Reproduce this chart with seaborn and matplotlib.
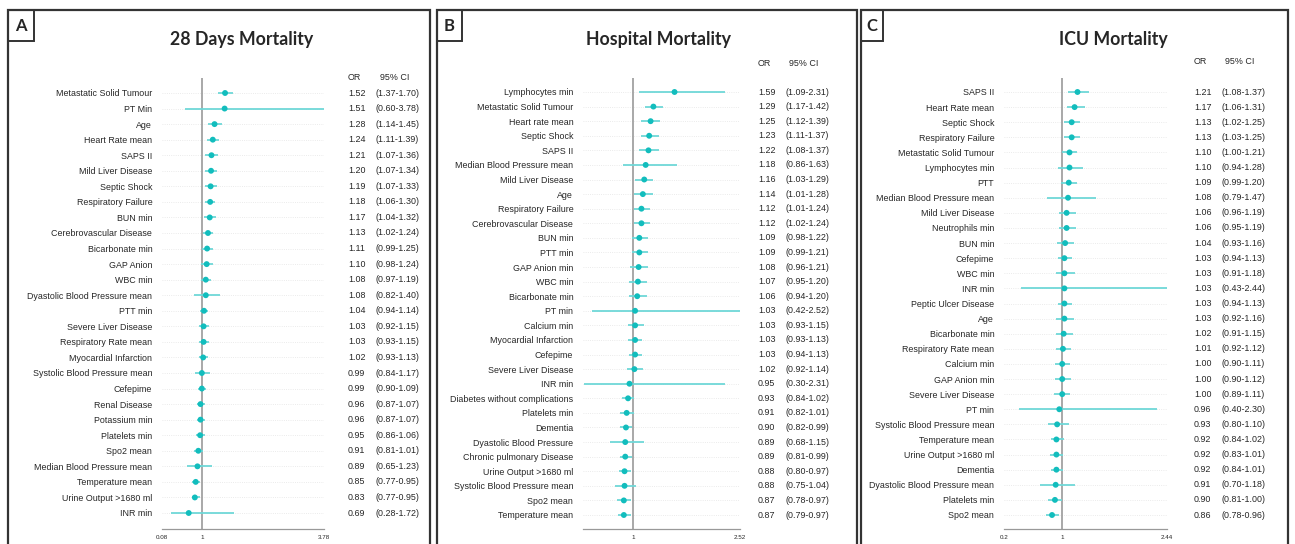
import numpy as np
import pandas as pd
import matplotlib
matplotlib.use('Agg')
import matplotlib.pyplot as plt
import seaborn as sns
from matplotlib.patches import Rectangle

# ---- data: 28 days mortality
labels_a = ['Metastatic Solid Tumour', 'PT Min', 'Age', 'Heart Rate mean', 'SAPS II',
            'Mild Liver Disease', 'Septic Shock', 'Respiratory Failure', 'BUN min',
            'Cerebrovascular Disease', 'Bicarbonate min', 'GAP Anion', 'WBC min',
            'Dyastolic Blood Pressure mean', 'PTT min', 'Severe Liver Disease',
            'Respiratory Rate mean', 'Myocardial Infarction', 'Systolic Blood Pressure mean',
            'Cefepime', 'Renal Disease', 'Potassium min', 'Platelets min', 'Spo2 mean',
            'Median Blood Pressure mean', 'Temperature mean', 'Urine Output >1680 ml', 'INR min']
or_a = [1.52, 1.51, 1.28, 1.24, 1.21, 1.20, 1.19, 1.18, 1.17, 1.13, 1.11, 1.10, 1.08, 1.08,
        1.04, 1.03, 1.03, 1.02, 0.99, 0.99, 0.96, 0.96, 0.95, 0.91, 0.89, 0.85, 0.83, 0.69]
lo_a = [1.37, 0.60, 1.14, 1.11, 1.07, 1.07, 1.07, 1.06, 1.04, 1.02, 0.99, 0.98, 0.97, 0.82,
        0.94, 0.92, 0.93, 0.93, 0.84, 0.90, 0.87, 0.87, 0.86, 0.81, 0.65, 0.77, 0.77, 0.28]
hi_a = [1.70, 3.78, 1.45, 1.39, 1.36, 1.34, 1.33, 1.30, 1.32, 1.24, 1.25, 1.24, 1.19, 1.40,
        1.14, 1.15, 1.15, 1.13, 1.17, 1.09, 1.07, 1.07, 1.06, 1.01, 1.23, 0.95, 0.95, 1.72]

# ---- data: hospital mortality
labels_b = ['Lymphocytes min', 'Metastatic Solid Tumour', 'Heart rate mean', 'Septic Shock',
            'SAPS II', 'Median Blood Pressure mean', 'Mild Liver Disease', 'Age',
            'Respiratory Failure', 'Cerebrovascular Disease', 'BUN min', 'PTT min',
            'GAP Anion min', 'WBC min', 'Bicarbonate min', 'PT min', 'Calcium min',
            'Myocardial Infarction', 'Cefepime', 'Severe Liver Disease', 'INR min',
            'Diabetes without complications', 'Platelets min', 'Dementia',
            'Dyastolic Blood Pressure', 'Chronic pulmonary Disease', 'Urine Output >1680 ml',
            'Systolic Blood Pressure mean', 'Spo2 mean', 'Temperature mean']
or_b = [1.59, 1.29, 1.25, 1.23, 1.22, 1.18, 1.16, 1.14, 1.12, 1.12, 1.09, 1.09, 1.08, 1.07,
        1.06, 1.03, 1.03, 1.03, 1.03, 1.02, 0.95, 0.93, 0.91, 0.90, 0.89, 0.89, 0.88, 0.88,
        0.87, 0.87]
lo_b = [1.09, 1.17, 1.12, 1.11, 1.08, 0.86, 1.03, 1.01, 1.01, 1.02, 0.98, 0.99, 0.96, 0.95,
        0.94, 0.42, 0.93, 0.93, 0.94, 0.92, 0.30, 0.84, 0.82, 0.82, 0.68, 0.81, 0.80, 0.75,
        0.78, 0.79]
hi_b = [2.31, 1.42, 1.39, 1.37, 1.37, 1.63, 1.29, 1.28, 1.24, 1.24, 1.22, 1.21, 1.21, 1.20,
        1.20, 2.52, 1.15, 1.13, 1.13, 1.14, 2.31, 1.02, 1.01, 0.99, 1.15, 0.99, 0.97, 1.04,
        0.97, 0.97]

# ---- data: ICU mortality
labels_c = ['SAPS II', 'Heart Rate mean', 'Septic Shock', 'Respiratory Failure',
            'Metastatic Solid Tumour', 'Lymphocytes min', 'PTT', 'Median Blood Pressure mean',
            'Mild Liver Disease', 'Neutrophils min', 'BUN min', 'Cefepime', 'WBC min',
            'INR min', 'Peptic Ulcer Disease', 'Age', 'Bicarbonate min',
            'Respiratory Rate mean', 'Calcium min', 'GAP Anion min', 'Severe Liver Disease',
            'PT min', 'Systolic Blood Pressure mean', 'Temperature mean',
            'Urine Output >1680 ml', 'Dementia', 'Dyastolic Blood Pressure mean',
            'Platelets min', 'Spo2 mean']
or_c = [1.21, 1.17, 1.13, 1.13, 1.10, 1.10, 1.09, 1.08, 1.06, 1.06, 1.04, 1.03, 1.03, 1.03,
        1.03, 1.03, 1.02, 1.01, 1.00, 1.00, 1.00, 0.96, 0.93, 0.92, 0.92, 0.92, 0.91, 0.90,
        0.86]
lo_c = [1.08, 1.06, 1.02, 1.03, 1.00, 0.94, 0.99, 0.79, 0.96, 0.95, 0.93, 0.94, 0.91, 0.43,
        0.94, 0.92, 0.91, 0.92, 0.90, 0.90, 0.89, 0.40, 0.80, 0.84, 0.83, 0.84, 0.70, 0.81,
        0.78]
hi_c = [1.37, 1.31, 1.25, 1.25, 1.21, 1.28, 1.20, 1.47, 1.19, 1.19, 1.16, 1.13, 1.18, 2.44,
        1.13, 1.16, 1.15, 1.12, 1.11, 1.12, 1.11, 2.30, 1.10, 1.02, 1.01, 1.01, 1.18, 1.00,
        0.96]

W, H = 1295, 544
DOT = '#12BDBD'
LINE = '#6FD8D8'
TXT = ['Liberation Sans', 'DejaVu Sans']
TITLE = ['Lato', 'DejaVu Sans']

sns.set_style('white')
plt.rcParams['font.family'] = TXT

fig = plt.figure(figsize=(W / 100, H / 100), dpi=100)


def fx(x):
    return x / W


def fy(y):
    return 1 - y / H


panels = [
    dict(letter='A', title='28 Days Mortality', labels=labels_a, OR=or_a, lo=lo_a, hi=hi_a,
         box=(8, 430), lbox=34, tcx=242, ax=(162, 324), xlim=(0.08, 3.78),
         ticks=['0.08', '1', '3.78'], orx=348, cix=376, hy=77, top=78, y0=93, y1=513),
    dict(letter='B', title='Hospital Mortality', labels=labels_b, OR=or_b, lo=lo_b, hi=hi_b,
         box=(437, 857), lbox=462, tcx=658, ax=(583, 740), xlim=(0.29, 2.52),
         ticks=['', '1', '2.52'], orx=758, cix=785, hy=63, top=78, y0=92, y1=515),
    dict(letter='C', title='ICU Mortality', labels=labels_c, OR=or_c, lo=lo_c, hi=hi_c,
         box=(861, 1288), lbox=883, tcx=1113, ax=(1004, 1167), xlim=(0.2, 2.44),
         ticks=['0.2', '1', '2.44'], orx=1194, cix=1221, hy=62, top=78, y0=92, y1=515),
]

bottom = 529
for p in panels:
    # panel frame and letter box
    x0, x1 = p['box']
    fig.patches.append(Rectangle((fx(x0), fy(H + 10)), fx(x1 - x0), (H + 10 - 10) / H,
                                 transform=fig.transFigure, fill=False, lw=1.6,
                                 edgecolor='#333333'))
    fig.patches.append(Rectangle((fx(x0), fy(41)), fx(p['lbox'] - x0), 31 / H,
                                 transform=fig.transFigure, fill=False, lw=1.4,
                                 edgecolor='#333333'))
    fig.text(fx((x0 + p['lbox']) / 2), fy(26), p['letter'], ha='center', va='center',
             fontsize=12, fontweight='bold', family=TITLE)
    fig.text(fx(p['tcx']), fy(40), p['title'], ha='center', va='center',
             fontsize=12.8, fontweight='bold', family=TITLE)

    df = pd.DataFrame({'label': p['labels'], 'OR': p['OR'], 'lo': p['lo'], 'hi': p['hi']})
    df['pos'] = np.arange(len(df))
    n = len(df)

    a0, a1 = p['ax']
    ax = fig.add_axes([fx(a0), fy(bottom), fx(a1 - a0), (bottom - p['top']) / H])
    step = (p['y1'] - p['y0']) / (n - 1)
    ax.set_ylim(n - 1 + (bottom - p['y1']) / step, -(p['y0'] - p['top']) / step)
    ax.set_xlim(*p['xlim'])

    for y in df['pos']:
        ax.axhline(y, color='#e4e4e4', lw=0.6, ls=':', zorder=0)
    ax.axvline(1, color='#9a9a9a', lw=1.2, zorder=1)
    ax.hlines(df['pos'], df['lo'], df['hi'], color=LINE, lw=1.3, zorder=2)
    sns.scatterplot(data=df, x='OR', y='pos', ax=ax, color=DOT, s=18, edgecolor='none',
                    zorder=3, legend=False)

    ax.set_yticks(df['pos'])
    ax.set_yticklabels(df['label'], fontsize=6.4)
    ax.tick_params(axis='y', length=0, pad=7)
    ax.set_xticks([p['xlim'][0], 1, p['xlim'][1]])
    ax.set_xticklabels(p['ticks'], fontsize=4.5)
    ax.tick_params(axis='x', length=2.5, width=0.6, color='#888888', pad=2)
    ax.set_xlabel('')
    ax.set_ylabel('')
    for s in ['top', 'left', 'right']:
        ax.spines[s].set_visible(False)
    ax.spines['bottom'].set_color('#999999')
    ax.spines['bottom'].set_linewidth(0.9)

    # OR and CI columns
    fig.text(fx(p['orx']), fy(p['hy']), 'OR', fontsize=6.4, va='center')
    fig.text(fx(p['cix'] + 4), fy(p['hy']), '95% CI', fontsize=6.4, va='center')
    for _, r in df.iterrows():
        yy = p['y0'] + r['pos'] * step
        fig.text(fx(p['orx']), fy(yy), f"{r['OR']:.2f}", fontsize=6.4, va='center')
        fig.text(fx(p['cix']), fy(yy), f"({r['lo']:.2f}-{r['hi']:.2f})", fontsize=6.4,
                 va='center')

fig.savefig('out.png', dpi=100, facecolor='white')
